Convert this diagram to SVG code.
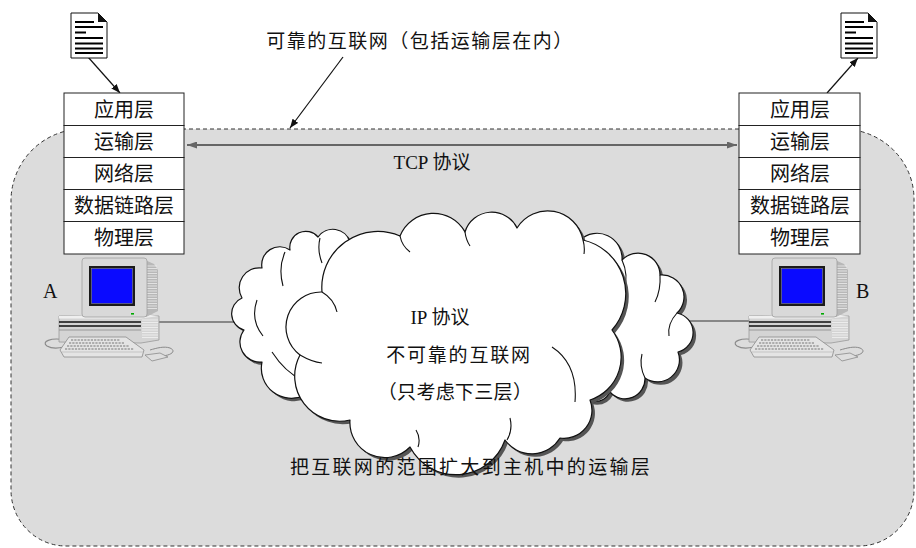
<svg xmlns="http://www.w3.org/2000/svg" xmlns:xlink="http://www.w3.org/1999/xlink" width="916" height="548" viewBox="0 0 916 548">
  <style>
    .cjk { font-family: "Noto Sans CJK SC", sans-serif; fill: #111; }
    .lat { font-family: "Liberation Serif", "Noto Sans CJK SC", serif; fill: #111; }
    .box { fill: #fff; stroke: #222; stroke-width: 1; }
    .cloud { fill: #fff; stroke: #111; stroke-width: 1.2; stroke-linejoin: round; }
    .cshadow { fill: #555; }
    .inner { fill: none; stroke: #111; stroke-width: 1.1; }
    .wire { fill: none; stroke: #333; stroke-width: 1.2; }
    .ptr { fill: none; stroke: #111; stroke-width: 1.2; }
    .docline { stroke: #000; stroke-width: 2; }
  </style>
  <defs>
    <marker id="ah" markerUnits="userSpaceOnUse" markerWidth="9" markerHeight="7" refX="9" refY="3.5" orient="auto">
      <path d="M0,0 L9,3.5 L0,7 Z" fill="#111"/>
    </marker>
    <marker id="ahg" markerUnits="userSpaceOnUse" markerWidth="10" markerHeight="7" refX="10" refY="3.5" orient="auto-start-reverse">
      <path d="M0,0 L10,3.5 L0,7 Z" fill="#666"/>
    </marker>

    <!-- document sheet with folded corner -->
    <g id="doc">
      <path d="M0,0 H27 L36,9 V45 H0 Z" fill="#fff" stroke="#111" stroke-width="1"/>
      <path d="M27,0 L36,9 L27,9 Z" fill="#111"/>
      <path class="docline" d="M4,9 H23 M4,14 H32 M4,19.5 H15 M4,25 H32 M4,30.5 H32 M4,35.5 H32 M4,40 H32"/>
    </g>

    <!-- desktop computer -->
    <g id="computer">
      <path d="M66,340 C50,337 41,342 47,346 C52,349 60,348 64,347" fill="none" stroke="#8a8a8a" stroke-width="1.2"/>
      <path d="M160,356 C171,356 177,351 170,348 C164,346 157,348 150,350" fill="none" stroke="#8a8a8a" stroke-width="1"/>
      <!-- base unit -->
      <path d="M59,316 L141,314 L159,316 L159,340 L141,343 L59,342 Z" fill="#d4d4d4" stroke="#999" stroke-width="0.8"/>
      <path d="M59,316 L141,314 L159,316 L141,318.5 L59,318.5 Z" fill="#efefef"/>
      <path d="M59,322 H141 M59,326 H141" stroke="#111" stroke-width="1.4"/>
      <path d="M59,330 H141" stroke="#8a8a8a" stroke-width="0.8"/>
      <path d="M142,320 H158 M142,322.5 H158 M142,325 H158 M142,327.5 H158 M142,330 H158 M142,332.5 H158 M142,335 H158 M142,337.5 H158" stroke="#f2f2f2" stroke-width="0.8"/>
      <!-- monitor -->
      <path d="M145,260 L154,264 L158,270 L158,311 L146,317 Z" fill="#b8b8b8"/>
      <path d="M147,266 H157 M147,268.5 H157 M147,271 H157 M147,273.5 H157 M147,276 H157 M147,278.5 H157 M147,281 H157 M147,283.5 H157 M147,286 H157 M147,288.5 H157 M147,291 H157 M147,293.5 H157 M147,296 H157 M147,298.5 H157 M147,301 H157 M147,303.5 H157 M147,306 H157 M147,308.5 H157" stroke="#ececec" stroke-width="0.8"/>
      <rect x="82" y="258" width="65" height="59" rx="3" fill="#d9d9d9" stroke="#a0a0a0" stroke-width="0.8"/>
      <rect x="89" y="266" width="46" height="40" fill="#1a1a1a"/>
      <rect x="91.5" y="268.5" width="41" height="35" fill="#0a0aff" stroke="#888" stroke-width="0.6"/>
      <rect x="131" y="313" width="3" height="1.6" fill="#0a0"/>
      <!-- keyboard -->
      <path d="M69,337 L126,337 L144,350 L142,357 L64,357 L60,350 Z" fill="#e4e4e4" stroke="#8a8a8a" stroke-width="0.8"/>
      <path d="M71,340 H120 M69,343 H124 M67,346 H129 M65,349 H134" stroke="#9a9a9a" stroke-width="1.4" stroke-dasharray="2.2 1.1"/>
      <path d="M62,352 L143,352" stroke="#bbb" stroke-width="0.8"/>
      <!-- mouse -->
      <path d="M145,355 L160,353 L168,357 L152,361 Z" fill="#dedede" stroke="#8a8a8a" stroke-width="0.8"/>
    </g>

    <!-- cloud outlines -->
    <path id="cloud-left" d="M305,395 A30,30 0 0 1 262,362 A20,20 0 0 1 244,330 A17,17 0 0 1 242,298 A20,20 0 0 1 262,268 A18,18 0 0 1 290,250 A16,16 0 0 1 318,237 A18,18 0 0 1 350,242 L390,300 L360,410 Z"/>
    <path id="cloud-right" d="M580,240 A25,25 0 0 1 622,260 A22,22 0 0 1 660,275 A22,22 0 0 1 677,313 A20,20 0 0 1 678,352 A22,22 0 0 1 645,378 A20,20 0 0 1 610,392 A18,18 0 0 1 578,392 L560,320 Z"/>
    <path id="cloud-main" d="M322,292 A56,56 0 0 1 400,236 A36,36 0 0 1 465,232 A28,28 0 0 1 517,228 A36,36 0 0 1 583,240 A55,55 0 0 1 612,330 A45,45 0 0 1 590,400 A28,28 0 0 1 560,438 A33,33 0 0 1 505,440 A52,52 0 0 1 410,447 A35,35 0 0 1 350,420 A45,45 0 0 1 300,355 A35,35 0 0 1 322,292 Z"/>
  </defs>

  <!-- extended internet region (dashed outline) -->
  <path id="region" d="M84,129 H842 A72,70 0 0 1 914,199 V490 A55,56 0 0 1 859,546 H66 A55,56 0 0 1 11,490 V201 A72,72 0 0 1 84,129 Z" fill="#dcdcdc" stroke="#333" stroke-width="1" stroke-dasharray="4 3"/>

  <!-- connectors -->
  <g id="connectors">
    <line class="wire" x1="158" y1="322" x2="248" y2="322"/>
    <line class="wire" x1="672" y1="321" x2="751" y2="321"/>
    <line x1="187" y1="145" x2="737" y2="145" stroke="#666" stroke-width="2" marker-start="url(#ahg)" marker-end="url(#ahg)"/>
    <line class="ptr" x1="88" y1="57" x2="120" y2="93" marker-end="url(#ah)"/>
    <line class="ptr" x1="827" y1="93" x2="858" y2="58" marker-end="url(#ah)"/>
    <line class="ptr" x1="343" y1="57" x2="290" y2="128" marker-end="url(#ah)"/>
  </g>

  <!-- internet cloud -->
  <g id="cloud">
    <use xlink:href="#cloud-left" class="cshadow" transform="translate(3,3)"/>
    <use xlink:href="#cloud-left" class="cloud"/>
    <path class="inner" d="M257,300 Q250,320 263,336 M285,252 Q278,268 283,286 M320,238 Q317,250 322,263 M272,352 Q285,372 302,380"/>
    <use xlink:href="#cloud-right" class="cshadow" transform="translate(3,3)"/>
    <use xlink:href="#cloud-right" class="cloud"/>
    <path class="inner" d="M622,260 Q629,275 624,292 M660,275 Q661,290 655,302 M677,313 Q667,324 669,336 M645,378 Q639,366 642,354"/>
    <use xlink:href="#cloud-main" class="cshadow" transform="translate(3,3)"/>
    <use xlink:href="#cloud-main" class="cloud"/>
    <path class="inner" d="M400,236 Q402,246 410,252 M465,232 Q466,240 470,246 M583,240 Q585,247 584,254 M552,347 Q578,364 575,402 M510,418 Q513,430 507,440 M416,430 Q421,438 418,447 M322,292 Q334,299 337,312 M300,355 Q312,362 322,363"/>
    <text class="lat" x="440" y="324" font-size="19" text-anchor="middle">IP 协议</text>
    <text class="cjk" x="459" y="362" font-size="19" letter-spacing="1.8" text-anchor="middle">不可靠的互联网</text>
    <text class="cjk" x="455" y="399" font-size="19" letter-spacing="0.3" text-anchor="middle">（只考虑下三层）</text>
  </g>

  <!-- host A -->
  <g id="host-a">
    <use xlink:href="#doc" transform="translate(71,13)"/>
    <rect class="box" x="64" y="93" width="120" height="32.5"/>
    <rect class="box" x="64" y="125.5" width="120" height="32"/>
    <rect class="box" x="64" y="157.5" width="120" height="32"/>
    <rect class="box" x="64" y="189.5" width="120" height="32"/>
    <rect class="box" x="64" y="221.5" width="120" height="32.5"/>
    <text class="cjk" x="124" y="117" font-size="20" text-anchor="middle">应用层</text>
    <text class="cjk" x="124" y="149" font-size="20" text-anchor="middle">运输层</text>
    <text class="cjk" x="124" y="181" font-size="20" text-anchor="middle">网络层</text>
    <text class="cjk" x="124" y="213" font-size="20" text-anchor="middle">数据链路层</text>
    <text class="cjk" x="124" y="245" font-size="20" text-anchor="middle">物理层</text>
    <use xlink:href="#computer"/>
    <text class="lat" x="43" y="298" font-size="20">A</text>
  </g>

  <!-- host B -->
  <g id="host-b">
    <use xlink:href="#doc" transform="translate(841,13)"/>
    <rect class="box" x="739" y="93" width="121" height="32.5"/>
    <rect class="box" x="739" y="125.5" width="121" height="32"/>
    <rect class="box" x="739" y="157.5" width="121" height="32"/>
    <rect class="box" x="739" y="189.5" width="121" height="32"/>
    <rect class="box" x="739" y="221.5" width="121" height="32.5"/>
    <text class="cjk" x="800" y="117" font-size="20" text-anchor="middle">应用层</text>
    <text class="cjk" x="800" y="149" font-size="20" text-anchor="middle">运输层</text>
    <text class="cjk" x="800" y="181" font-size="20" text-anchor="middle">网络层</text>
    <text class="cjk" x="800" y="213" font-size="20" text-anchor="middle">数据链路层</text>
    <text class="cjk" x="800" y="245" font-size="20" text-anchor="middle">物理层</text>
    <use xlink:href="#computer" transform="translate(690,0)"/>
    <text class="lat" x="856" y="298" font-size="20">B</text>
  </g>

  <!-- labels -->
  <g id="labels">
    <text class="cjk" x="420" y="48" font-size="19" letter-spacing="1.5" text-anchor="middle">可靠的互联网（包括运输层在内）</text>
    <text class="lat" x="432" y="169" font-size="19" text-anchor="middle">TCP 协议</text>
    <text class="cjk" x="471" y="474" font-size="19" letter-spacing="2.3" text-anchor="middle">把互联网的范围扩大到主机中的运输层</text>
  </g>
</svg>
